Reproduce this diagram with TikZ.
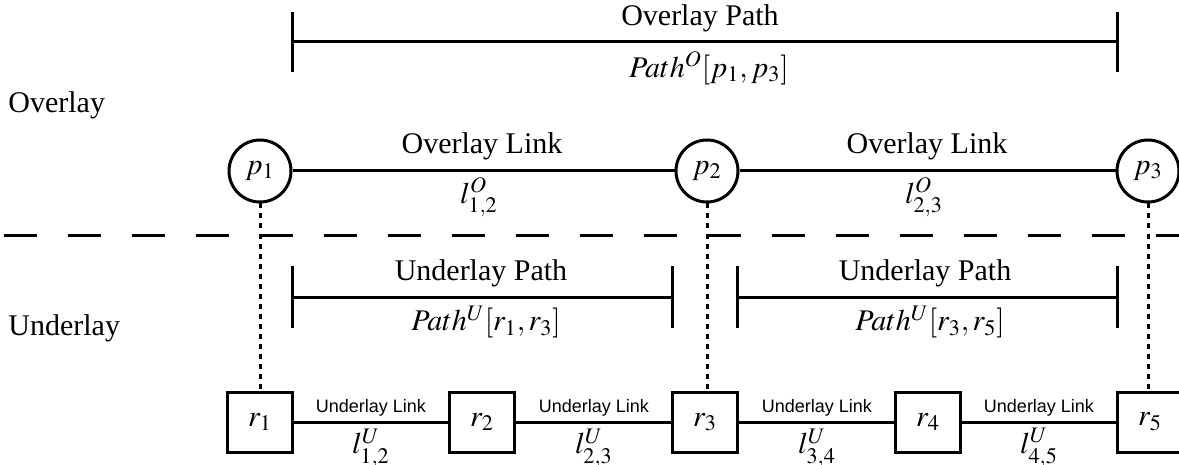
\documentclass[tikz,border=0pt]{standalone}
\usepackage{mathptmx}
\usepackage{fontspec}
\setmainfont{Liberation Serif}
\newfontfamily\arialf{Liberation Sans}
\usetikzlibrary{calc}
\begin{document}
\begin{tikzpicture}[x=0.5pt,y=-0.5pt,
  every node/.style={font=\fontsize{15}{17}\selectfont},
  ln/.style={line width=1.5pt},
  circ/.style={draw,circle,line width=1.5pt,minimum size=31pt,inner sep=0pt},
  sq/.style={draw,rectangle,line width=1.5pt,minimum width=32.5pt,minimum height=30pt,inner sep=0pt},
  dotl/.style={line width=1.5pt,dash pattern=on 2.5pt off 2.5pt},
  dashl/.style={line width=1.5pt,dash pattern=on 16.5pt off 15.5pt},
  small/.style={font=\arialf\fontsize{9}{11}\selectfont},
  lab/.style={inner sep=0pt}]
\useasboundingbox (0,0) rectangle (1179,465);
% overlay path bracket
\coordinate (oa) at (292,42); \coordinate (ob) at (1117,42);
\draw[ln] (oa) -- (ob);
\draw[ln] ($(oa)+(0,-30)$) -- ($(oa)+(0,30)$);
\draw[ln] ($(ob)+(0,-30)$) -- ($(ob)+(0,30)$);
\node[lab] (opt) at (700,18) {Overlay Path};
\node[lab] (opm) at (709,68) {$Path^{O}[p_1,p_3]$};
% layer labels
\node[lab,anchor=west] (ovl) at (8,105) {Overlay};
\node[lab,anchor=west] (unl) at (8,328) {Underlay};
% overlay nodes
\node[circ] (p1) at (260,171) {$p_1$};
\node[circ] (p2) at (707,171) {$p_2$};
\node[circ] (p3) at (1148,171) {$p_3$};
\draw[ln] (p1) -- (p2);
\draw[ln] (p2) -- (p3);
\node[lab] (ol1) at (482,146) {Overlay Link};
\node[lab] (ol1m) at (479,197) {$l^{O}_{1,2}$};
\node[lab] (ol2) at (927,146) {Overlay Link};
\node[lab] (ol2m) at (924,197) {$l^{O}_{2,3}$};
% separator
\coordinate (sa) at (4,235); \coordinate (sb) at (1179,235);
\draw[dashl] (sa) -- (sb);
% underlay path brackets
\coordinate (ua) at (292,297); \coordinate (ub) at (672,297);
\draw[ln] (ua) -- (ub);
\draw[ln] ($(ua)+(0,-31)$) -- ($(ua)+(0,31)$);
\draw[ln] ($(ub)+(0,-31)$) -- ($(ub)+(0,31)$);
\node[lab] (up1) at (481,273) {Underlay Path};
\node[lab] (up1m) at (486,322) {$Path^{U}[r_1,r_3]$};
\coordinate (uc) at (737,297); \coordinate (ud) at (1117,297);
\draw[ln] (uc) -- (ud);
\draw[ln] ($(uc)+(0,-31)$) -- ($(uc)+(0,31)$);
\draw[ln] ($(ud)+(0,-31)$) -- ($(ud)+(0,31)$);
\node[lab] (up2) at (925,273) {Underlay Path};
\node[lab] (up2m) at (930,322) {$Path^{U}[r_3,r_5]$};
% underlay nodes
\node[sq] (r1) at (260,422) {$r_1$};
\node[sq] (r2) at (482,422) {$r_2$};
\node[sq] (r3) at (705,422) {$r_3$};
\node[sq] (r4) at (928,422) {$r_4$};
\node[sq] (r5) at (1150,422) {$r_5$};
\draw[ln] (r1) -- (r2);
\draw[ln] (r2) -- (r3);
\draw[ln] (r3) -- (r4);
\draw[ln] (r4) -- (r5);
\node[lab,small] (ul1) at (371,408) {Underlay Link};
\node[lab,small] (ul2) at (594,408) {Underlay Link};
\node[lab,small] (ul3) at (817,408) {Underlay Link};
\node[lab,small] (ul4) at (1039,408) {Underlay Link};
\node[lab] (ul1m) at (371,448) {$l^{U}_{1,2}$};
\node[lab] (ul2m) at (594,448) {$l^{U}_{2,3}$};
\node[lab] (ul3m) at (817,448) {$l^{U}_{3,4}$};
\node[lab] (ul4m) at (1039,448) {$l^{U}_{4,5}$};
% vertical dotted links
\draw[dotl] (p1.south) -- (r1.north);
\draw[dotl] (p2.south) -- (p2.south |- r3.north);
\draw[dotl] (p3.south) -- (p3.south |- r5.north);
\end{tikzpicture}
\end{document}
